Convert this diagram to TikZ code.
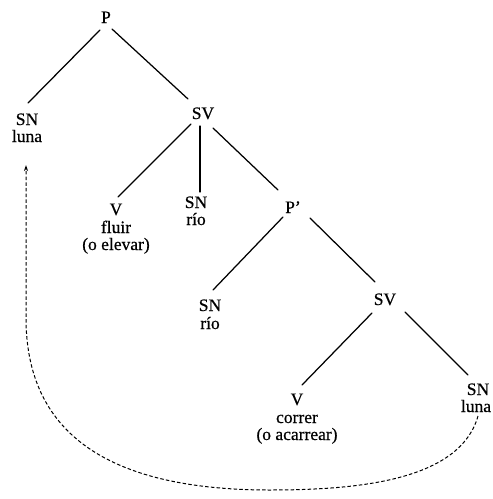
\documentclass[tikz,border=0pt]{standalone}
\usepackage{fontspec}
\setmainfont{Liberation Serif}
\newfontfamily\treefont{Liberation Serif}[FakeBold=0.6,Ligatures=TeX]
\usetikzlibrary{calc,arrows.meta}

\begin{document}
\begin{tikzpicture}[x=1pt,y=-1pt,
  lbl/.style={anchor=base,inner sep=0pt,font=\treefont\fontsize{17.5}{17.5}\selectfont},
  branch/.style={line width=1.25pt,line cap=round},
  move/.style={line width=1pt,dash pattern=on 3.5pt off 2.2pt,
    -{Stealth[length=6pt,width=4pt]}}]
  \useasboundingbox (0,0) rectangle (493,499);

  % categories
  \node[lbl] (p)    at (106,23)  {P};
  \node[lbl] (sn1)  at (27,125)  {SN};
  \node[lbl] (sv1)  at (203,119) {SV};
  \node[lbl] (v1)   at (116,215) {V};
  \node[lbl] (sn2)  at (196,208) {SN};
  \node[lbl] (pp)   at (293,213) {P’};
  \node[lbl] (sn3)  at (210,311) {SN};
  \node[lbl] (sv2)  at (385,305) {SV};
  \node[lbl] (v2)   at (297,405) {V};
  \node[lbl] (sn4)  at (478,395) {SN};

  % words
  \node[lbl] (w1)  at (27,142)  {luna};
  \node[lbl] (w2)  at (116,233) {fluir};
  \node[lbl] (w2b) at (116,250) {(o elevar)};
  \node[lbl] (w3)  at (196,225) {río};
  \node[lbl] (w4)  at (210,329) {río};
  \node[lbl] (w5)  at (297,423) {correr};
  \node[lbl] (w5b) at (297,440) {(o acarrear)};
  \node[lbl] (w6)  at (476,412) {luna};

  % branches
  \draw[branch] ($(p.base)+(-6,7)$)    -- ($(sn1.base)+(1,-22)$);
  \draw[branch] ($(p.base)+(6,6)$)     -- ($(sv1.base)+(-15,-20)$);
  \draw[branch] ($(sv1.base)+(-12,5)$) -- ($(v1.base)+(2,-18)$);
  \draw[branch] ($(sv1.base)+(-3,7)$)  -- ($(sn2.base)+(4,-16)$);
  \draw[branch] ($(sv1.base)+(10,9)$)  -- ($(pp.base)+(-15,-23)$);
  \draw[branch] ($(pp.base)+(-10,4)$)  -- ($(sn3.base)+(3,-21)$);
  \draw[branch] ($(pp.base)+(17,5)$)   -- ($(sv2.base)+(-10,-23)$);
  \draw[branch] ($(sv2.base)+(-13,8)$) -- ($(v2.base)+(5,-20)$);
  \draw[branch] ($(sv2.base)+(20,7)$)  -- ($(sn4.base)+(-10,-20)$);

  % movement of the subject
  \coordinate (bot) at (270,490);
  \coordinate (turn) at (26,320);
  \draw[move] ($(w6.base)+(2,4)$)
      .. controls (460,480) and (360,490) .. (bot)
      .. controls (90,490) and (27,420) .. (turn)
      -- ($(w1.base)+(-1,23)$);
\end{tikzpicture}
\end{document}
